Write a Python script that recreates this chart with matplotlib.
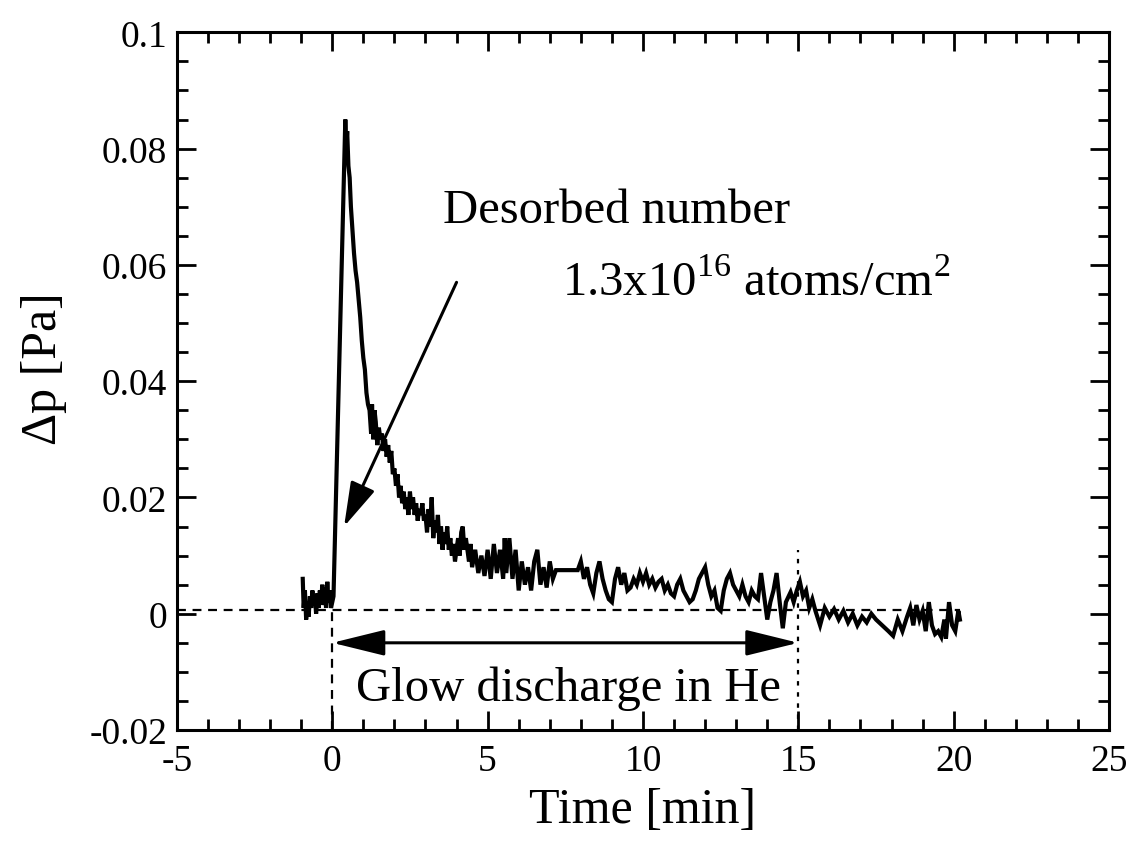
import matplotlib
matplotlib.use("Agg")
import matplotlib.pyplot as plt
from matplotlib.ticker import MultipleLocator, FuncFormatter

plt.rcParams["font.family"] = ["Liberation Serif", "DejaVu Serif"]
plt.rcParams["mathtext.fontset"] = "custom"
plt.rcParams["mathtext.rm"] = "Liberation Serif"
plt.rcParams["axes.unicode_minus"] = False

# ─── Data ─────────────────────────────────────────────────────────────────────

time_min = [
    -0.95, -0.92, -0.88, -0.84, -0.80, -0.76, -0.72, -0.68, -0.64, -0.60,
    -0.56, -0.52, -0.48, -0.44, -0.40, -0.36, -0.32, -0.28, -0.24, -0.20,
    -0.16, -0.12, -0.08, -0.04, 0.00, 0.04,
    0.42, 0.45, 0.48, 0.52, 0.56, 0.60, 0.65, 0.70, 0.75, 0.80,
    0.85, 0.90, 0.95, 1.00, 1.05, 1.10, 1.15, 1.20, 1.25, 1.28,
    1.32, 1.36, 1.40, 1.45, 1.50, 1.55, 1.60, 1.65, 1.70, 1.75,
    1.80, 1.85, 1.90, 1.95, 2.00, 2.05, 2.10, 2.15, 2.20, 2.25,
    2.30, 2.35, 2.40, 2.45, 2.50, 2.55, 2.60, 2.65, 2.70, 2.75,
    2.80, 2.85, 2.90, 2.95, 3.00, 3.05, 3.10, 3.15, 3.20, 3.25,
    3.30, 3.35, 3.40, 3.45, 3.50, 3.55, 3.60, 3.65, 3.70, 3.75,
    3.80, 3.85, 3.90, 3.95, 4.00, 4.05, 4.10, 4.15, 4.20, 4.25,
    4.30, 4.40, 4.45, 4.50, 4.60, 4.70, 4.80, 4.90, 5.00, 5.10,
    5.20, 5.30, 5.40, 5.50, 5.55, 5.60, 5.70, 5.80, 5.90, 6.00,
    6.10, 6.20, 6.30, 6.40, 6.50, 6.60, 6.70, 6.80, 6.90, 7.00,
    7.10, 7.20, 7.90, 8.00, 8.10, 8.20, 8.30, 8.40, 8.50, 8.60,
    8.70, 8.80, 8.90, 9.00, 9.10, 9.20, 9.30, 9.40, 9.50, 9.60,
    9.70, 9.80, 9.90, 10.0, 10.1, 10.2, 10.3, 10.4, 10.5, 10.6,
    10.7, 10.8, 10.9, 11.0, 11.1, 11.2, 11.3, 11.4, 11.5, 11.6,
    11.7, 11.8, 11.9, 12.0, 12.1, 12.2, 12.3, 12.4, 12.5, 12.6,
    12.7, 12.8, 12.9, 13.0, 13.1, 13.2, 13.3, 13.4, 13.5, 13.6,
    13.7, 13.8, 13.9, 14.0, 14.1, 14.2, 14.3, 14.4, 14.5, 14.6,
    14.75, 14.85, 14.95, 15.05, 15.15, 15.25, 15.35, 15.45, 15.55, 15.7,
    15.85, 16.0, 16.15, 16.3, 16.45, 16.6, 16.75, 16.9, 17.05, 17.2,
    17.35, 17.5, 17.7, 17.9, 18.05, 18.2, 18.35, 18.5, 18.6, 18.7,
    18.8, 18.9, 19.0, 19.1, 19.2, 19.3, 19.4, 19.5, 19.6, 19.7,
    19.75, 19.85, 19.95, 20.05, 20.15, 20.2,
]

dp_pa = [
    0.0060, 0.0010, 0.0040, -0.0010, 0.0020, -0.0005, 0.0030, 0.0010, 0.0040, 0.0015,
    0.0030, 0.0000, 0.0035, 0.0010, 0.0040, 0.0020, 0.0050, 0.0015, 0.0045, 0.0010,
    0.0055, 0.0020, 0.0040, 0.0010, 0.0020, 0.0030,
    0.0850, 0.0800, 0.0830, 0.0770, 0.0750, 0.0700, 0.0660, 0.0620, 0.0590, 0.0570,
    0.0540, 0.0510, 0.0470, 0.0440, 0.0420, 0.0380, 0.0360, 0.0350, 0.0310, 0.0360,
    0.0300, 0.0350, 0.0330, 0.0290, 0.0320, 0.0300, 0.0310, 0.0280, 0.0300, 0.0270,
    0.0290, 0.0260, 0.0280, 0.0240, 0.0250, 0.0220, 0.0240, 0.0200, 0.0220, 0.0190,
    0.0210, 0.0180, 0.0200, 0.0170, 0.0210, 0.0180, 0.0200, 0.0170, 0.0190, 0.0160,
    0.0180, 0.0170, 0.0190, 0.0160, 0.0170, 0.0140, 0.0180, 0.0150, 0.0200, 0.0130,
    0.0160, 0.0140, 0.0170, 0.0120, 0.0150, 0.0110, 0.0140, 0.0120, 0.0150, 0.0110,
    0.0130, 0.0100, 0.0120, 0.0090, 0.0110, 0.0130, 0.0100, 0.0140, 0.0150, 0.0110,
    0.0130, 0.0090, 0.0120, 0.0080, 0.0110, 0.0070, 0.0100, 0.0065, 0.0110, 0.0060,
    0.0120, 0.0070, 0.0110, 0.0060, 0.0130, 0.0070, 0.0130, 0.0060, 0.0110, 0.0040,
    0.0090, 0.0050, 0.0080, 0.0040, 0.0090, 0.0110, 0.0050, 0.0080, 0.0045, 0.0090,
    0.0060, 0.0075, 0.0075, 0.0090, 0.0060, 0.0080, 0.0050, 0.0035, 0.0070, 0.0090,
    0.0060, 0.0040, 0.0025, 0.0020, 0.0060, 0.0080, 0.0050, 0.0070, 0.0040, 0.0045,
    0.0060, 0.0050, 0.0070, 0.0055, 0.0070, 0.0050, 0.0060, 0.0045, 0.0055, 0.0060,
    0.0040, 0.0050, 0.0035, 0.0030, 0.0050, 0.0060, 0.0040, 0.0030, 0.0020, 0.0025,
    0.0040, 0.0060, 0.0070, 0.0080, 0.0050, 0.0030, 0.0040, 0.0010, 0.0005, 0.0040,
    0.0060, 0.0070, 0.0050, 0.0040, 0.0030, 0.0050, 0.0030, 0.0020, 0.0040, 0.0030,
    0.0025, 0.0070, 0.0030, -0.0010, 0.0020, 0.0040, 0.0070, 0.0020, -0.0025, 0.0020,
    0.0037, 0.0020, 0.0040, 0.0055, 0.0030, 0.0040, 0.0010, 0.0025, 0.0005, -0.0020,
    0.0010, -0.0005, 0.0008, -0.0010, 0.0005, -0.0015, 0.0000, -0.0020, -0.0005, -0.0015,
    0.0000, -0.0010, -0.0020, -0.0030, -0.0038, -0.0010, -0.0030, -0.0005, 0.0010, -0.0020,
    0.0015, -0.0010, 0.0005, -0.0030, 0.0020, -0.0020, -0.0035, -0.0030, -0.0040, -0.0010,
    -0.0043, 0.0020, -0.0020, -0.0030, 0.0005, -0.0010,
]

baseline = 0.0007          # dashed zero line
glow_start, glow_end = 0.0, 15.0
marker_top_end = 0.011     # top of the dotted line at t = 15

x_ticks = [-5, 0, 5, 10, 15, 20, 25]
y_ticks = [-0.02, 0, 0.02, 0.04, 0.06, 0.08, 0.1]


# ─── Figure ───────────────────────────────────────────────────────────────────

fig = plt.figure(figsize=(11.34, 8.54), dpi=100)
ax = fig.add_axes([0.156, 0.144, 0.822, 0.817])

ax.plot(time_min, dp_pa, color="black", lw=3.0, solid_joinstyle="miter")

ax.plot([-5, 20.2], [baseline, baseline], color="black", lw=1.6, ls=(0, (4, 3)))
ax.plot([glow_start, glow_start], [-0.02, baseline], color="black", lw=1.6, ls=(0, (4, 3)))
ax.plot([glow_end, glow_end], [-0.02, marker_top_end], color="black", lw=1.6, ls=(0, (2, 3)))

# double arrow for the discharge period
ax.annotate("", xy=(glow_end, -0.005), xytext=(glow_start, -0.005),
            arrowprops=dict(arrowstyle="<|-|>,head_length=1.3,head_width=0.32",
                            color="black", lw=2.2, mutation_scale=25,
                            shrinkA=0, shrinkB=0))
ax.text(7.6, -0.0128, "Glow discharge in He", ha="center", va="center", fontsize=35)

# desorbed number annotation
ax.annotate("", xy=(0.38, 0.015), xytext=(4.0, 0.057),
            arrowprops=dict(arrowstyle="-|>,head_length=1.1,head_width=0.32",
                            color="black", lw=2.2, mutation_scale=25,
                            shrinkA=0, shrinkB=0))
ax.text(3.55, 0.0695, "Desorbed number", ha="left", va="center", fontsize=35)
ax.text(7.4, 0.057, r"1.3x10$^{16}$ atoms/cm$^{2}$", ha="left", va="center", fontsize=35)

# ─── Axes styling ─────────────────────────────────────────────────────────────

ax.set_xlim(-5, 25)
ax.set_ylim(-0.02, 0.1)
ax.set_xticks(x_ticks)
ax.set_yticks(y_ticks)
ax.xaxis.set_minor_locator(MultipleLocator(1))
ax.yaxis.set_minor_locator(MultipleLocator(0.005))
ax.yaxis.set_major_formatter(FuncFormatter(lambda v, _: "0" if abs(v) < 1e-9 else f"{v:g}"))

ax.tick_params(which="both", direction="in", top=True, right=True, width=2, labelsize=27)
ax.tick_params(which="major", length=14)
ax.tick_params(axis="x", which="major", pad=10)
ax.tick_params(axis="y", which="major", pad=7)
ax.tick_params(which="minor", length=8)
for s in ax.spines.values():
    s.set_linewidth(2.2)

ax.set_xlabel("Time [min]", fontsize=36, labelpad=6)
ax.set_ylabel("Δp [Pa]", fontsize=36)
ax.yaxis.set_label_coords(-0.118, 0.52)

fig.savefig("out.png", dpi=100)
